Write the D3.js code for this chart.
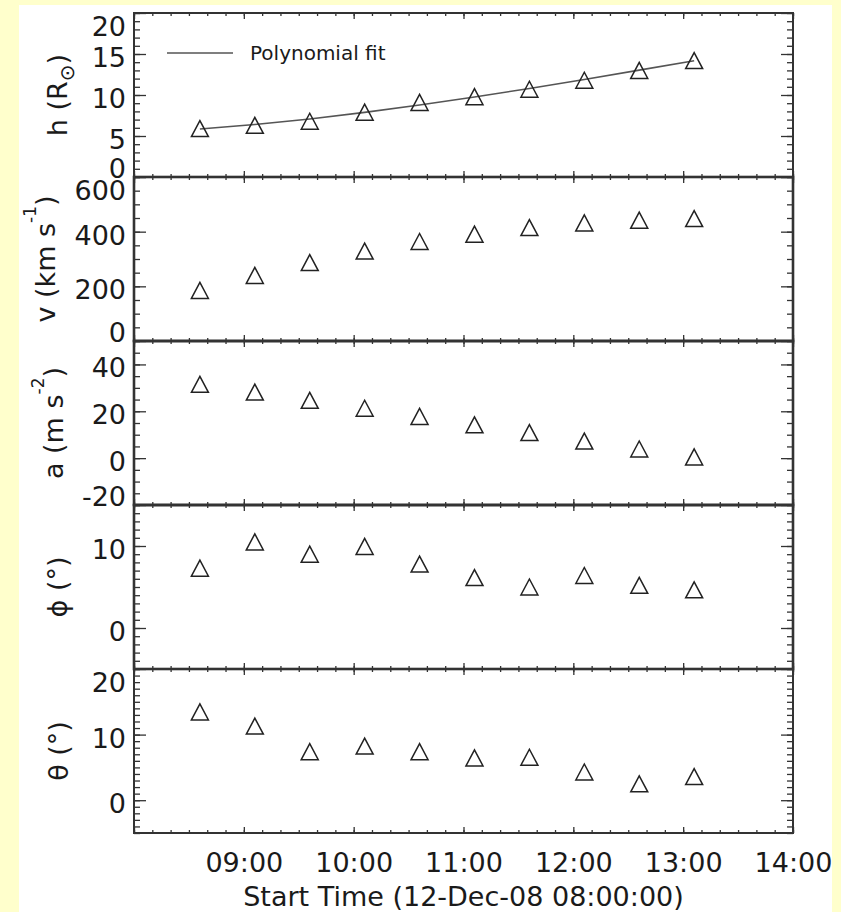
<!DOCTYPE html>
<html>
<head>
<meta charset="utf-8">
<script src="https://cdn.jsdelivr.net/npm/d3@7"></script>
<style>
  body { margin: 0; background: #ffffcc; }
  svg { display: block; }
  text { font-family: "DejaVu Sans", sans-serif; fill: #1a1a1a; }
</style>
</head>
<body>
<svg id="chart" width="841" height="912"></svg>
<script>
// observation times (UT, 12-Dec-2008)
const times = ['08:36', '09:06', '09:36', '10:06', '10:36', '11:06', '11:36', '12:06', '12:36', '13:06'];

// values
const heights = [5.9, 6.3, 6.8, 7.9, 9.1, 9.8, 10.7, 11.8, 13.0, 14.2];
const heightFit = [5.85, 6.4, 7.08, 7.88, 8.78, 9.76, 10.8, 11.9, 13.03, 14.18];
const velocities = [185, 240, 287, 329, 364, 391, 415, 432, 442, 448];
const accelerations = [31.5, 28.2, 24.7, 21.3, 17.8, 14.2, 10.9, 7.3, 3.9, 0.5];
const phis = [7.3, 10.5, 9.0, 9.95, 7.8, 6.15, 5.0, 6.4, 5.2, 4.65];
const thetas = [13.45, 11.3, 7.4, 8.25, 7.4, 6.45, 6.55, 4.3, 2.5, 3.6];

// y tick labels per panel
const hTicks = [0, 5, 10, 15, 20];
const vTicks = [0, 200, 400, 600];
const aTicks = [-20, 0, 20, 40];
const phiTicks = [0, 10];
const thetaTicks = [0, 10, 20];

const panels = [
  {values: heights, fit: heightFit, domain: [0, 20], ticks: hTicks, minor: 1,
   title: [['h (R', ''], ['\u2299', 'sub'], [')', '']], titleX: 67},
  {values: velocities, domain: [0, 600], ticks: vTicks, minor: 50,
   title: [['v (km s', ''], ['-1', 'sup'], [')', '']], titleX: 55},
  {values: accelerations, domain: [-20, 50], ticks: aTicks, minor: 5,
   title: [['a (m s', ''], ['-2', 'sup'], [')', '']], titleX: 63},
  {values: phis, domain: [-5, 15], ticks: phiTicks, minor: 1,
   title: [['\u03d5 (\u00b0)', '']], titleX: 67},
  {values: thetas, domain: [-5, 20], ticks: thetaTicks, minor: 1,
   title: [['\u03b8 (\u00b0)', '']], titleX: 68}
];

const x0 = 134, x1 = 793, yTop = 13, yBot = 833;
const panelH = (yBot - yTop) / panels.length;
const axisColor = '#333';

const parse = d3.utcParse('%Y-%m-%d %H:%M');
const dates = times.map(s => parse('2008-12-12 ' + s));

const svg = d3.select('#chart');

// white paper on the yellow page
svg.append('rect')
  .attr('x', 19).attr('y', 5)
  .attr('width', 813).attr('height', 907)
  .attr('fill', '#fff');

const x = d3.scaleUtc()
  .domain([parse('2008-12-12 08:00'), parse('2008-12-12 14:00')])
  .range([x0, x1]);

const minorX = x.ticks(d3.utcMinute.every(10));
const majorX = x.ticks(d3.utcHour.every(1));

const stripDomain = g => g.select('.domain').remove();

panels.forEach((p, i) => {
  const top = yTop + i * panelH;
  const bottom = top + panelH;
  const y = d3.scaleLinear().domain(p.domain).range([bottom, top]);
  const g = svg.append('g').attr('color', axisColor);
  const minorY = d3.range(p.domain[0], p.domain[1] + 1e-9, p.minor);

  // y ticks, left side (with labels) and mirrored on the right
  g.append('g')
    .attr('transform', `translate(${x0},0)`)
    .call(d3.axisLeft(y).tickValues(minorY).tickSize(-6).tickSizeOuter(0).tickFormat(''))
    .call(stripDomain);
  const yAxis = g.append('g')
    .attr('transform', `translate(${x0},0)`)
    .call(d3.axisLeft(y).tickValues(p.ticks).tickSize(-12).tickSizeOuter(0)
      .tickPadding(8).tickFormat(d => String(d)))
    .call(stripDomain);
  // the end labels are pulled inside the panel, as in the original plot
  yAxis.selectAll('text')
    .attr('font-family', '"DejaVu Sans", sans-serif')
    .attr('font-size', 27)
    .attr('fill', '#1a1a1a')
    .attr('dy', d => d === p.domain[1] ? 22 : d === p.domain[0] ? 0 : 12.5);

  g.append('g')
    .attr('transform', `translate(${x1},0)`)
    .call(d3.axisRight(y).tickValues(minorY).tickSize(-6).tickSizeOuter(0).tickFormat(''))
    .call(stripDomain);
  g.append('g')
    .attr('transform', `translate(${x1},0)`)
    .call(d3.axisRight(y).tickValues(p.ticks).tickSize(-12).tickSizeOuter(0).tickFormat(''))
    .call(stripDomain);

  // x ticks on top and bottom of every panel
  [[d3.axisTop, top], [d3.axisBottom, bottom]].forEach(([axis, yy]) => {
    g.append('g')
      .attr('transform', `translate(0,${yy})`)
      .call(axis(x).tickValues(minorX).tickSize(-3).tickSizeOuter(0).tickFormat(''))
      .call(stripDomain);
    g.append('g')
      .attr('transform', `translate(0,${yy})`)
      .call(axis(x).tickValues(majorX).tickSize(-6).tickSizeOuter(0).tickFormat(''))
      .call(stripDomain);
  });

  g.selectAll('.tick line').attr('stroke-width', 1.3);

  // frame
  g.append('rect')
    .attr('x', x0).attr('y', top)
    .attr('width', x1 - x0).attr('height', bottom - top)
    .attr('fill', 'none')
    .attr('stroke', axisColor)
    .attr('stroke-width', i === 0 || i === panels.length - 1 ? 2 : 2.6);

  // polynomial fit (height panel only)
  if (p.fit) {
    g.append('path')
      .datum(p.fit)
      .attr('fill', 'none')
      .attr('stroke', '#555')
      .attr('stroke-width', 1.6)
      .attr('d', d3.line().x((d, j) => x(dates[j])).y(d => y(d)));
  }

  // triangle markers
  g.selectAll('path.marker')
    .data(p.values)
    .join('path')
      .attr('class', 'marker')
      .attr('fill', 'none')
      .attr('stroke', '#222')
      .attr('stroke-width', 1.5)
      .attr('d', (d, j) => {
        const cx = x(dates[j]), cy = y(d);
        return `M${cx - 8.5},${cy + 8}L${cx},${cy - 8}L${cx + 8.5},${cy + 8}Z`;
      });

  // y title, rotated
  const title = svg.append('text')
    .attr('transform', `translate(${p.titleX},${(top + bottom) / 2}) rotate(-90)`)
    .attr('text-anchor', 'middle')
    .attr('font-size', 27);
  let shift = 0;
  p.title.forEach(([txt, kind]) => {
    const want = kind === 'sub' ? 7 : kind === 'sup' ? -19 : 0;
    title.append('tspan')
      .attr('dy', want - shift)
      .attr('font-size', kind === 'sub' ? 20 : kind === 'sup' ? 17 : 27)
      .text(txt);
    shift = want;
  });
});

// x tick labels under the last panel
svg.append('g')
  .attr('transform', `translate(0,${yBot})`)
  .call(d3.axisBottom(x).tickValues(majorX.filter(d => d > x.domain()[0]))
    .tickSize(0).tickPadding(20).tickFormat(d3.utcFormat('%H:%M')))
  .call(stripDomain)
  .selectAll('text')
    .attr('font-family', '"DejaVu Sans", sans-serif')
    .attr('font-size', 27)
    .attr('fill', '#1a1a1a');

svg.append('text')
  .attr('x', (x0 + x1) / 2)
  .attr('y', 906)
  .attr('text-anchor', 'middle')
  .attr('font-size', 27)
  .text('Start Time (12-Dec-08 08:00:00)');

// legend
svg.append('line')
  .attr('x1', 167).attr('x2', 233)
  .attr('y1', 53).attr('y2', 53)
  .attr('stroke', '#555')
  .attr('stroke-width', 1.6);
svg.append('text')
  .attr('x', 250).attr('y', 60)
  .attr('font-size', 20)
  .text('Polynomial fit');
</script>
</body>
</html>
